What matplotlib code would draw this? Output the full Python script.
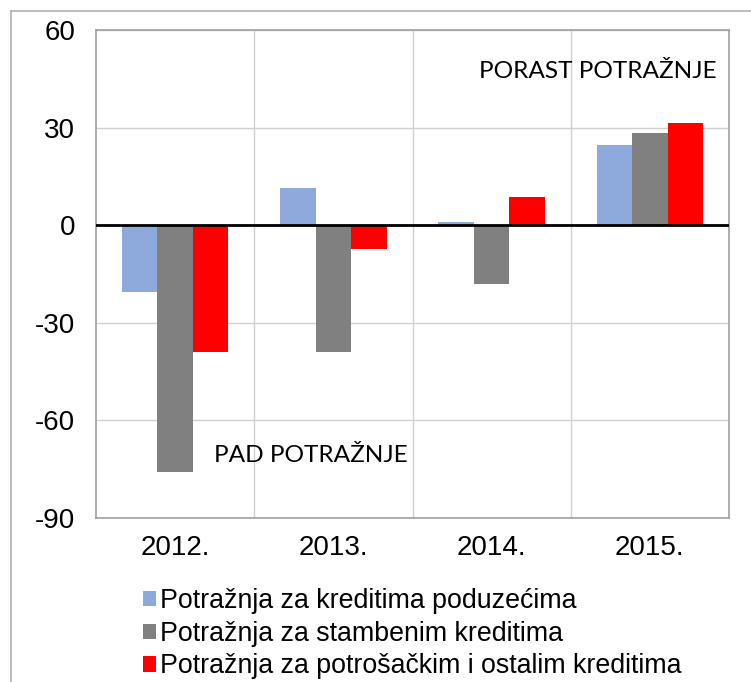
import numpy as np
import matplotlib
matplotlib.use("Agg")
import matplotlib.pyplot as plt
from matplotlib.lines import Line2D

# podaci
years = ["2012.", "2013.", "2014.", "2015."]
poduzeca = [-20.6, 11.3, 1.1, 24.6]
stambeni = [-76.0, -39.0, -18.0, 28.3]
potrosacki = [-39.1, -7.4, 8.8, 31.3]
series_names = ["Potražnja za kreditima poduzećima",
                "Potražnja za stambenim kreditima",
                "Potražnja za potrošačkim i ostalim kreditima"]
colors = ["#8eaadc", "#808080", "#ff0000"]

plt.rcParams['font.family'] = ['Liberation Sans', 'DejaVu Sans']
plt.rcParams['axes.unicode_minus'] = False

W, H = 751, 682
fig = plt.figure(figsize=(W / 100, H / 100), dpi=100)
ax = fig.add_axes([96 / W, 1 - 518 / H, (729 - 96) / W, (518 - 30) / H])

x = np.arange(len(years))
bw = 0.224
for i, (vals, c, name) in enumerate(zip([poduzeca, stambeni, potrosacki], colors, series_names)):
    ax.bar(x + (i - 1) * bw, vals, width=bw, color=c, label=name, zorder=3)

ax.axhline(0, color="black", lw=2, zorder=4)

ax.set_xlim(-0.5, 3.5)
ax.set_ylim(-90, 60)
ax.set_yticks([-90, -60, -30, 0, 30, 60])
ax.set_xticks(x)
ax.set_xticklabels(years)
ax.set_xticks([0.5, 1.5, 2.5], minor=True)
ax.tick_params(axis="both", which="both", length=0, labelsize=20)
ax.tick_params(axis="y", pad=15)
ax.tick_params(axis="x", pad=12)
ax.grid(axis="y", color="#d0d0d0", lw=1, zorder=0)
ax.grid(axis="x", which="minor", color="#d0d0d0", lw=1, zorder=0)
for s in ax.spines.values():
    s.set_color("#a0a0a0")
    s.set_linewidth(1.2)

ax.text(0.98, 0.914, "PORAST POTRAŽNJE", transform=ax.transAxes, ha="right", va="center",
        fontsize=17.6, family=["Lato", "DejaVu Sans"])
ax.text(0.186, 0.129, "PAD POTRAŽNJE", transform=ax.transAxes, ha="left", va="center",
        fontsize=17.6, family=["Lato", "DejaVu Sans"])

fig.legend(loc="upper left", bbox_to_anchor=(143 / W, 1 - 588 / H), frameon=False,
           fontsize=19.3, handlelength=0.5, handleheight=0.5, handletextpad=0.12,
           labelspacing=0.25, borderaxespad=0, borderpad=0)

# okvir oko grafikona
fig.add_artist(Line2D([11 / W, 11 / W], [0, 1 - 11 / H], color="#b0b0b0", lw=1.2))
fig.add_artist(Line2D([11 / W, 1], [1 - 11 / H, 1 - 11 / H], color="#b0b0b0", lw=1.2))

fig.savefig("out.png", dpi=100)
